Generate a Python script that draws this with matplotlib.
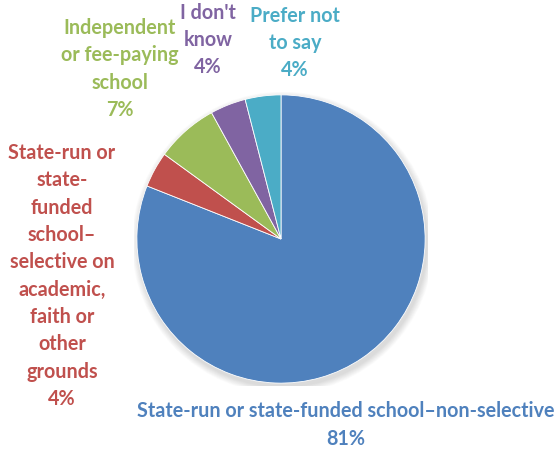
import numpy as np
import matplotlib.pyplot as plt
from matplotlib.patches import Circle

# school type shares, clockwise from 12 o'clock
categories = [
    "State-run or state-funded school\u2013non-selective",
    "State-run or\nstate-\nfunded\nschool\u2013\nselective on\nacademic,\nfaith or\nother\ngrounds",
    "Independent\nor fee-paying\nschool",
    "I don't\nknow",
    "Prefer not\nto say",
]
shares = [81, 4, 7, 4, 4]
colors = ["#4F81BD", "#C0504D", "#9BBB59", "#8064A2", "#4BACC6"]

# label anchor points (pixels from top-left of the figure)
label_pos = [(346, 425), (62, 276), (120, 69), (208, 40), (295, 43)]

W, H = 558, 452
fig = plt.figure(figsize=(W / 100, H / 100), dpi=100)
fig.patch.set_facecolor("white")

cx, cy, r = 281, 240, 147
ax = fig.add_axes([(cx - r) / W, (H - cy - r) / H, 2 * r / W, 2 * r / H])
ax.set_aspect("equal")
ax.axis("off")

# soft drop shadow under the pie
for i in range(12):
    ax.add_patch(Circle((0.012, -0.025), 1.0 + 0.004 * (12 - i),
                        color="black", alpha=0.012, lw=0, zorder=0))

ax.pie(shares, colors=colors, startangle=90, counterclock=False, radius=1.0,
       wedgeprops=dict(edgecolor="white", linewidth=0.6))
ax.set_xlim(-1.02, 1.02)
ax.set_ylim(-1.02, 1.02)

for name, val, col, (px, py) in zip(categories, shares, colors, label_pos):
    fig.text(px / W, 1 - py / H, f"{name}\n{val}%", color=col,
             ha="center", va="center", fontsize=14.2, fontweight="bold",
             family=["Lato", "DejaVu Sans"], linespacing=1.46)

fig.savefig("out.png", dpi=100, facecolor="white")
